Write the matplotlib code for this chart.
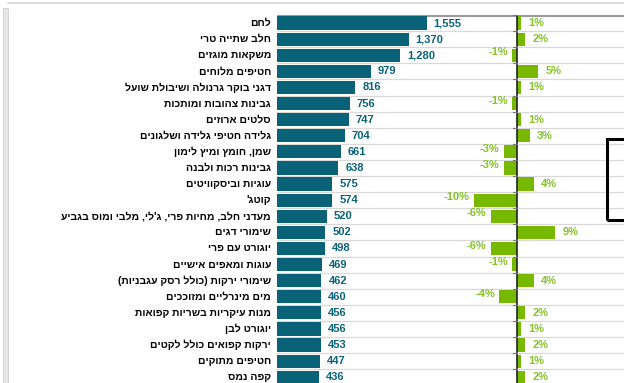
import matplotlib.pyplot as plt
from matplotlib.patches import Rectangle
from matplotlib.lines import Line2D
import matplotlib.transforms as mtransforms

# categories (logical Hebrew order), values and yearly change in %
categories = [
    "לחם", "חלב שתייה טרי", "משקאות מוגזים", "חטיפים מלוחים",
    "דגני בוקר גרנולה ושיבולת שועל", "גבינות צהובות ומותכות", "סלטים ארוזים",
    "גלידה חטיפי גלידה ושלגונים", "שמן, חומץ ומיץ לימון", "גבינות רכות ולבנה",
    "עוגיות וביסקוויטים", "קוטג'", "מעדני חלב, מחיות פרי, ג'לי, מלבי ומוס בגביע",
    "שימורי דגים", "יוגורט עם פרי", "עוגות ומאפים אישיים",
    "שימורי ירקות (כולל רסק עגבניות)", "מים מינרליים ומזוככים",
    "מנות עיקריות בשריות קפואות", "יוגורט לבן", "ירקות קפואים כולל לקטים",
    "חטיפים מתוקים", "קפה נמס",
]
sales = [1555, 1370, 1280, 979, 816, 756, 747, 704, 661, 638, 575, 574, 520,
         502, 498, 469, 462, 460, 456, 456, 453, 447, 436]
change = [1, 2, -1, 5, 1, -1, 1, 3, -3, -3, 4, -10, -6, 9, -6, -1, 4, -4,
          2, 1, 2, 1, 2]

TEAL = "#0a6278"
GREEN = "#76b900"
GREEN_TXT = "#86c22a"
FONT = ["Liberation Sans", "DejaVu Sans"]


def visual(s):
    # crude bidi: reverse the Hebrew string and mirror brackets
    swap = {"(": ")", ")": "("}
    return "".join(swap.get(c, c) for c in reversed(s))


W, H = 624, 383
fig = plt.figure(figsize=(W / 100, H / 100), dpi=100)
fig.patch.set_facecolor("white")

left_px, top_px = 277, 15
pos = [left_px / W, 0, (W - left_px) / W, (H - top_px) / H]
ax1 = fig.add_axes(pos)
ax2 = fig.add_axes(pos)
ax2.patch.set_visible(False)

n = len(categories)
rows = list(range(n))
ymax = -0.5 + (H - top_px) / 16.1
for ax in (ax1, ax2):
    ax.set_ylim(ymax, -0.5)
    for sp in ax.spines.values():
        sp.set_visible(False)
    ax.set_xticks([])
    ax.set_yticks([])

ax_w = W - left_px
ax1.set_xlim(0, ax_w / 0.0962)
zero_px, pct_px = 239.7, 4.3
ax2.set_xlim(-zero_px / pct_px, (ax_w - zero_px) / pct_px)

# row separators
for i in range(-1, n):
    y = i + 0.5
    if i == -1:
        ax1.axhline(y, color="#9a9a9a", lw=2.2, zorder=1)
    else:
        ax1.axhline(y, color="#d9d9d9", lw=0.9, zorder=1)

# left series
ax1.barh(rows, sales, height=0.82, left=0, color=TEAL, zorder=3)
for r, v in zip(rows, sales):
    ax1.annotate(f"{v:,}", (v, r), xytext=(5, 0), textcoords="offset points",
                 va="center", ha="left", color=TEAL, fontsize=8,
                 fontweight="bold", family=FONT)

# category labels
tr = mtransforms.blended_transform_factory(fig.transFigure, ax1.transData)
for r, c in zip(rows, categories):
    ax1.text(271 / W, r, visual(c), transform=tr, ha="right", va="center",
             fontsize=7.5, fontweight="bold", family=FONT, color="#000000")

# right series
ax2.barh(rows, change, height=0.82, color=GREEN, zorder=3)
ax2.axvline(0, color="#222222", lw=1.2, zorder=4)
for i in range(n + 1):
    ax2.plot([-0.8, 0], [i - 0.5, i - 0.5], color="#777777", lw=0.8,
             zorder=4, clip_on=False)
for r, v in zip(rows, change):
    if v >= 0:
        ax2.annotate(f"{v}%", (v, r), xytext=(5, 0), textcoords="offset points",
                     va="center", ha="left", color=GREEN_TXT, fontsize=8,
                     fontweight="bold", family=FONT)
    else:
        ax2.annotate(f"{v}%", (v, r), xytext=(-3, 2), textcoords="offset points",
                     va="center", ha="right", color=GREEN_TXT, fontsize=8,
                     fontweight="bold", family=FONT)

# window frame of the screenshot
fig.add_artist(Rectangle((3 / W, 0), 5 / W, (H - 8) / H, transform=fig.transFigure,
                         facecolor="#e6e6e6", edgecolor="#d0d0d0", lw=0.6))
fig.add_artist(Line2D([8 / W, 1], [1 - 3 / H, 1 - 3 / H], transform=fig.transFigure,
                      color="#d6d6d6", lw=1.2))
fig.add_artist(Rectangle((607 / W, 1 - 220 / H), 30 / W, 81 / H,
                         transform=fig.transFigure, facecolor="none",
                         edgecolor="black", lw=2.2, zorder=10))

fig.savefig("out.png", dpi=100)
